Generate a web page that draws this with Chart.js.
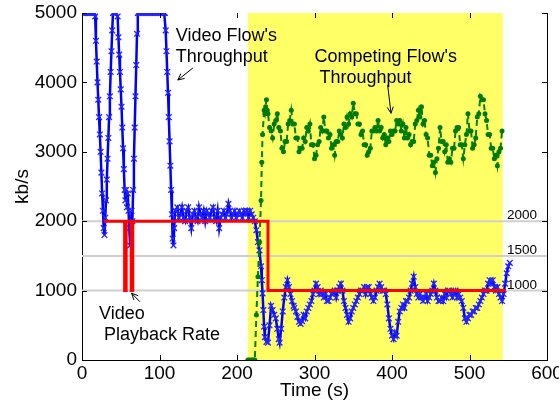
<!DOCTYPE html>
<html>
<head>
<meta charset="utf-8">
<script src="https://cdn.jsdelivr.net/npm/chart.js@4.4.1/dist/chart.umd.min.js"></script>
<style>
  html, body { margin: 0; padding: 0; background: #fff; }
  canvas { display: block; }
</style>
</head>
<body>
<canvas id="chart" width="559" height="407"></canvas>
<script>
// Data (time in s, rate in kb/s)
const xTicks = [0, 100, 200, 300, 400, 500, 600];
const yTicks = [0, 1000, 2000, 3000, 4000, 5000];
const refLevels = [1000, 1500, 2000];
const shadeRange = [214, 543];

const playbackRate = [
    [28,2000],[55,2000],[55,1000],[57,1000],[57,2000],[63.5,2000],[63.5,1000],[65.5,1000],[65.5,2000],
    [240,2000],[240,1000],[547,1000]
];

const videoFlow = [
    [0,5000],[2,5000],[4,5000],[6,5000],[8,5000],[10,5000],[12,5000],[14,5000],[16,5000],[17,4950],
    [18,4600],[19,4300],[20,4000],[21,3750],[22,3500],[23,3250],[24,3000],[25,2700],[26,2400],[27,2150],
    [28,1900],[29,1800],[30,2050],[31,2300],[32,2600],[33,2900],[34,3200],[35,3500],[36,3800],[37,4150],
    [38,4450],[39,4750],[40,5000],[42,5000],[44,5000],[46,4950],[47,4650],[48,4400],[49,4150],[50,3900],
    [51,3650],[52,3350],[53,3050],[54,2750],[55,2450],[56,2300],[57,2450],[58,2200],[59,2400],[60,2150],
    [61,1900],[62,1650],[63,1900],[64,2150],[65,2000],[66,2450],[67,2900],[68,3350],[69,3800],[70,4250],
    [71,4700],[72,5000],[74,5000],[76,5000],[78,5000],[80,5000],[82,5000],[84,5000],[86,5000],[88,5000],
    [90,5000],[92,5000],[94,5000],[96,5000],[98,5000],[100,5000],[102,5000],[104,5000],[106,5000],
    [107,5000],[108,4750],[109,4450],[110,4150],[111,3850],[112,3500],[113,3150],[114,2800],[115,2450],
    [116,2100],[117,1750],[118,1650],[119,1900],[120,2150],
    [121,2150],[123,2200],[125,2050],[127,2100],[129,2200],[131,2050],[133,2000],[135,2150],[137,2200],
    [139,2050],[141,1900],[143,2100],[145,2150],[147,2050],[149,2000],[151,2200],[153,2100],[155,2050],
    [157,2150],[159,2000],[161,2150],[163,2100],[165,2050],[167,2150],[169,2200],[171,2050],[173,2000],
    [175,2150],[177,1900],[179,2050],[181,2100],[183,2150],[185,2050],[187,2100],[189,2250],[191,2150],
    [193,2050],[195,2100],[197,2150],[199,2050],[201,2100],[203,2150],[205,2100],[207,2050],[209,2150],
    [211,2100],[213,2150],[215,2050],[217,2150],[219,2100],[221,2050],
    [223,2000],[225,1870],[227,1700],[229,1580],[231,1350],[232,1150],[233,960],[234,720],[235,480],
    [236,330],[238,260],[240,250],[242,500],[244,780],[246,720],[248,650],[250,600],[252,450],[254,300],
    [255,250],[257,450],[259,700],[261,900],[263,1050],[265,1150],[267,1050],[269,950],[271,850],[273,780],
    [274,750],[276,700],[278,620],[280,550],[282,520],[284,560],[286,650],[288,600],[290,700],[292,750],
    [294,800],[296,850],[298,950],[300,1000],[302,1100],[304,1050],[306,950],[308,1000],[310,950],[312,900],
    [314,950],[316,850],[318,850],[320,900],[322,950],[324,950],[326,1000],[328,900],[330,1000],[332,1050],
    [334,1100],[336,1000],[338,850],[340,750],[342,650],[344,550],[346,600],[348,700],[350,750],[352,800],
    [354,850],[356,900],[358,950],[360,1000],[362,1000],[364,1050],[366,950],[368,1050],[370,1050],[372,950],
    [374,900],[376,850],[378,900],[380,1000],[382,1050],[384,1100],[386,1050],[388,1000],[390,1000],[392,950],
    [394,800],[396,600],[398,450],[400,350],[402,300],[404,400],[406,350],[408,550],[410,700],[412,750],
    [414,800],[416,750],[418,850],[420,850],[422,900],[424,1000],[426,1100],[428,1200],[430,1050],[432,950],
    [434,900],[436,950],[438,900],[440,850],[442,900],[444,950],[446,850],[448,900],[450,950],[452,1000],
    [454,1100],[456,1000],[458,900],[460,850],[462,850],[464,900],[466,850],[468,950],[470,900],[472,1000],
    [474,1000],[476,950],[478,900],[480,950],[482,1000],[484,900],[486,950],[488,900],[490,850],[492,750],
    [494,600],[496,550],[498,600],[500,650],[502,650],[504,700],[506,700],[508,750],[510,750],[512,800],
    [514,850],[516,900],[518,950],[520,1000],[522,1000],[524,1100],[526,1150],[528,1100],[530,1150],[532,1050],
    [534,1000],[536,1050],[538,950],[540,900],[542,850],[544,950],[546,1100],[548,1250],[550,1350],[552,1400]
];

const competingFlow = [
    [214,0],[216,0],[218,0],[220,0],[222,0],[223,0],[225,650],[227,1200],[229,1700],[231,2300],
    [232,2850],[233,3250],[235,3600],[236,3550],[237,3650],[238,3750],[239,3600],
    [240,3550],[242,3350],[244,3300],[246,3200],[248,3400],[250,3450],[252,3550],[254,3350],[256,3300],
    [258,3050],[260,3000],[262,3150],[264,3150],[266,3400],[268,3450],[270,3600],[272,3400],[274,3400],
    [276,3200],[278,3200],[280,3000],[282,3050],[284,3050],[286,3200],[288,3150],[290,3350],[292,3300],
    [294,3400],[296,3100],[298,3100],[300,2900],[302,2950],[304,3100],[306,3150],[308,3350],[310,3300],
    [312,3500],[314,3300],[316,3300],[318,3200],[320,3250],[322,3050],[324,3100],[326,2950],[328,3150],
    [330,3150],[332,3300],[334,3250],[336,3200],[338,3400],[340,3350],[342,3500],[344,3400],[346,3550],
    [348,3500],[350,3700],[352,3550],[354,3550],[356,3400],[358,3400],[360,3250],[362,3300],[364,3100],
    [366,3100],[368,2950],[370,3000],[372,3050],[374,3300],[376,3300],[378,3350],[380,3300],[382,3450],
    [384,3300],[386,3350],[388,3200],[390,3250],[392,3100],[394,3200],[396,3150],[398,3300],[400,3250],
    [402,3300],[404,3300],[406,3450],[408,3400],[410,3450],[412,3300],[414,3400],[416,3200],[418,3350],
    [420,3200],[422,3250],[424,3100],[426,3150],[428,3150],[430,3400],[432,3450],[434,3600],[436,3500],
    [438,3650],[440,3400],[442,3450],[444,3250],[446,3200],[448,2950],[450,2950],[452,2800],[454,2850],
    [456,2700],[458,2900],[460,3050],[462,3350],[464,3150],[466,3150],[468,3000],[470,3100],[472,2850],
    [474,2900],[476,2850],[478,3050],[480,3050],[482,3300],[484,3350],[486,3350],[488,3100],[490,3100],
    [492,2900],[494,3100],[496,3250],[498,3550],[500,3300],[502,3300],[504,3050],[506,3100],[508,3200],
    [510,3500],[512,3550],[514,3800],[516,3750],[518,3750],[520,3550],[522,3450],[524,3250],[526,3250],
    [528,3050],[530,3050],[532,2900],[534,2950],[536,2800],[538,3000],[540,3050],[542,3300]
];

// Annotations (data coordinates)
const notes = [
    { lines: ["Video Flow's", 'Throughput'], t: 121, v: 4600 },
    { lines: ["Competing Flow's", ' Throughput'], t: 300, v: 4290 },
    { lines: ['Video', ' Playback Rate'], t: 22, v: 591 }
];
const arrows = [
    { from: [143, 4207], to: [123.6, 4035] },
    { from: [394.4, 3963], to: [398.7, 3555] },
    { from: [74.7, 840], to: [64, 961] }
];
const refLabelT = 587;

const FONT = "'Liberation Sans', Arial, Helvetica, sans-serif";
Chart.defaults.font.family = FONT;
Chart.defaults.color = '#000';

const toXY = arr => arr.map(p => ({ x: p[0], y: p[1] }));

const decorations = {
    id: 'decorations',
    beforeDraw(chart) {
        const { ctx, chartArea: a, scales: { x } } = chart;
        const x0 = x.getPixelForValue(shadeRange[0]);
        const x1 = x.getPixelForValue(shadeRange[1]);
        ctx.save();
        ctx.fillStyle = '#ffff66';
        ctx.fillRect(x0, a.top, x1 - x0, a.bottom - a.top);
        ctx.restore();
    },
    afterDatasetsDraw(chart) {
        const { ctx, chartArea: a, scales: { x, y } } = chart;
        ctx.save();
        // inward ticks + right border
        ctx.strokeStyle = '#000';
        ctx.lineWidth = 1;
        ctx.beginPath();
        xTicks.forEach(t => {
            const px = Math.round(x.getPixelForValue(t)) + 0.5;
            ctx.moveTo(px, a.bottom); ctx.lineTo(px, a.bottom - 5);
            ctx.moveTo(px, a.top); ctx.lineTo(px, a.top + 5);
        });
        yTicks.forEach(v => {
            const py = Math.round(y.getPixelForValue(v)) + 0.5;
            ctx.moveTo(a.left, py); ctx.lineTo(a.left + 5, py);
            ctx.moveTo(a.right, py); ctx.lineTo(a.right - 5, py);
        });
        const rx = Math.round(a.right) + 0.5;
        ctx.moveTo(rx, a.top); ctx.lineTo(rx, a.bottom);
        ctx.stroke();

        // reference level labels
        ctx.fillStyle = '#000';
        ctx.font = '13.5px ' + FONT;
        ctx.textAlign = 'right';
        ctx.textBaseline = 'alphabetic';
        refLevels.forEach(v => {
            ctx.fillText(String(v), x.getPixelForValue(refLabelT), y.getPixelForValue(v) - 2);
        });

        // text notes
        ctx.font = '18px ' + FONT;
        ctx.textAlign = 'left';
        notes.forEach(n => {
            const px = x.getPixelForValue(n.t), py = y.getPixelForValue(n.v);
            n.lines.forEach((line, i) => ctx.fillText(line, px, py + i * 21));
        });

        // arrows
        ctx.lineWidth = 1;
        arrows.forEach(ar => {
            const fx = x.getPixelForValue(ar.from[0]), fy = y.getPixelForValue(ar.from[1]);
            const tx = x.getPixelForValue(ar.to[0]), ty = y.getPixelForValue(ar.to[1]);
            const ang = Math.atan2(ty - fy, tx - fx);
            ctx.beginPath();
            ctx.moveTo(fx, fy); ctx.lineTo(tx, ty);
            ctx.moveTo(tx - 7 * Math.cos(ang - 0.45), ty - 7 * Math.sin(ang - 0.45));
            ctx.lineTo(tx, ty);
            ctx.lineTo(tx - 7 * Math.cos(ang + 0.45), ty - 7 * Math.sin(ang + 0.45));
            ctx.stroke();
        });
        ctx.restore();
    }
};

const refSets = refLevels.map(v => ({
    data: [{ x: 0, y: v }, { x: 600, y: v }],
    borderColor: '#cfcfcf', borderWidth: 2, pointRadius: 0
}));

new Chart(document.getElementById('chart'), {
    type: 'line',
    data: {
        datasets: [
            { data: toXY(playbackRate), borderColor: '#ff0000', borderWidth: 3, pointRadius: 0 },
            { data: toXY(competingFlow), borderColor: '#008000', borderWidth: 2, borderDash: [6, 4],
              pointRadius: 2.5, pointBackgroundColor: '#007a00', pointBorderWidth: 0 },
            { data: toXY(videoFlow), borderColor: '#0000ff', borderWidth: 2.5,
              pointStyle: 'crossRot', pointRadius: 4, pointBorderColor: '#2424ff', pointBorderWidth: 1.3 },
            ...refSets
        ]
    },
    options: {
        responsive: false,
        animation: false,
        devicePixelRatio: 1,
        layout: { padding: { top: 13, right: 12, left: 0, bottom: 0 } },
        elements: { line: { tension: 0 } },
        plugins: { legend: { display: false }, tooltip: { enabled: false } },
        scales: {
            x: {
                type: 'linear', min: 0, max: 600,
                afterBuildTicks: s => { s.ticks = xTicks.map(v => ({ value: v })); },
                ticks: { font: { size: 19 }, padding: 2, maxRotation: 0, callback: v => String(v) },
                grid: { display: false, drawTicks: false },
                border: { display: true, color: '#000', width: 1 },
                title: { display: true, text: 'Time (s)', font: { size: 19 }, padding: { top: 0, bottom: 5 } },
                afterFit: s => { s.height = 47; s.paddingLeft = 0; s.paddingRight = 0; }
            },
            y: {
                type: 'linear', min: 0, max: 5000,
                afterBuildTicks: s => { s.ticks = yTicks.map(v => ({ value: v })); },
                ticks: { font: { size: 19 }, padding: 5, callback: v => String(v) },
                grid: { display: false, drawTicks: false },
                border: { display: true, color: '#000', width: 1 },
                title: { display: true, text: 'kb/s', font: { size: 19 }, padding: { top: 11, bottom: 0 } },
                afterFit: s => { s.width = 82; s.paddingTop = 0; s.paddingBottom = 0; }
            }
        }
    },
    plugins: [decorations]
});
</script>
</body>
</html>
